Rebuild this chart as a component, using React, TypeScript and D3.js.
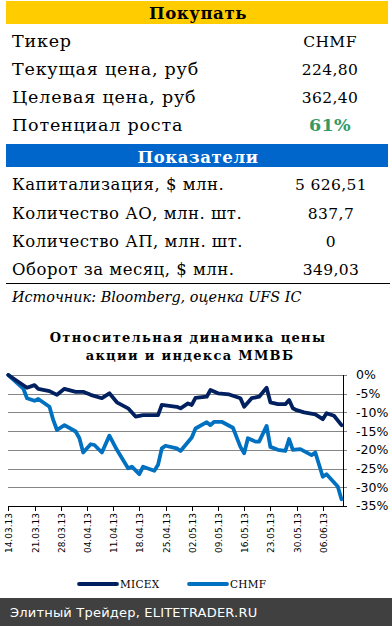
import React from "react";
import * as d3 from "d3";

const buyRows = ["Тикер", "Текущая цена, руб", "Целевая цена, руб", "Потенциал роста"];
const buyValues = ["CHMF", "224,80", "362,40", "61%"];
const statRows = ["Капитализация, $ млн.", "Количество АО, млн. шт.", "Количество АП, млн. шт.", "Оборот за месяц, $ млн."];
const statValues = ["5 626,51", "837,7", "0", "349,03"];

const xTickLabels = ["14.03.13", "21.03.13", "28.03.13", "04.04.13", "11.04.13", "18.04.13", "25.04.13", "02.05.13", "09.05.13", "16.05.13", "23.05.13", "30.05.13", "06.06.13"];
const yTicks = [0, -5, -10, -15, -20, -25, -30, -35];
const xDomain = ["14.03.13", "11.06.13"];

const micexDates = ["14.03.13","19.03.13","21.03.13","22.03.13","25.03.13","27.03.13","29.03.13","01.04.13","03.04.13","05.04.13","08.04.13","10.04.13","12.04.13","15.04.13","17.04.13","19.04.13","23.04.13","24.04.13","28.04.13","29.04.13","01.05.13","02.05.13","03.05.13","06.05.13","07.05.13","09.05.13","12.05.13","15.05.13","16.05.13","18.05.13","20.05.13","22.05.13","23.05.13","25.05.13","27.05.13","28.05.13","29.05.13","30.05.13","01.06.13","04.06.13","06.06.13","07.06.13","09.06.13","11.06.13"];
const micexValues = [0,-3.4,-2.7,-3.7,-4.3,-5.3,-3.7,-4.5,-4.5,-5.3,-6.2,-4.9,-7.3,-8.9,-11.1,-10.7,-10.7,-8.0,-8.5,-8.9,-7.6,-8.0,-6.1,-5.8,-4.0,-4.9,-5.2,-6.2,-8.5,-6.2,-5.8,-3.4,-7.3,-7.8,-7.8,-6.7,-8.9,-9.4,-10.0,-10.5,-11.8,-10.2,-10.9,-13.4];

const chmfDates = ["14.03.13","16.03.13","18.03.13","19.03.13","21.03.13","22.03.13","25.03.13","26.03.13","27.03.13","29.03.13","01.04.13","02.04.13","03.04.13","05.04.13","06.04.13","08.04.13","10.04.13","12.04.13","15.04.13","16.04.13","18.04.13","19.04.13","22.04.13","23.04.13","24.04.13","25.04.13","28.04.13","29.04.13","02.05.13","03.05.13","06.05.13","07.05.13","08.05.13","10.05.13","13.05.13","15.05.13","16.05.13","17.05.13","19.05.13","20.05.13","22.05.13","23.05.13","25.05.13","27.05.13","28.05.13","29.05.13","31.05.13","03.06.13","04.06.13","06.06.13","07.06.13","10.06.13","11.06.13"];
const chmfValues = [0,-1.8,-3.6,-6.2,-6.9,-6.4,-8.5,-12.0,-14.7,-13.4,-15.1,-16.9,-20.7,-18.5,-18.7,-20.7,-16.2,-20.0,-24.9,-24.5,-26.5,-24.5,-25.6,-24.0,-19.6,-18.9,-19.6,-20.3,-16.7,-14.3,-12.6,-13.4,-12.5,-12.5,-14.1,-19.2,-20.9,-16.9,-17.8,-17.8,-13.6,-19.2,-20.0,-20.3,-17.1,-20.0,-19.8,-21.4,-20.7,-27.2,-26.5,-29.8,-33.2];

const seriesNames = ["MICEX", "CHMF"];
const seriesColors = ["#002060", "#0070C0"];

const parse = d3.timeParse("%d.%m.%y");

export default function App() {
  const x = d3.scaleTime().domain(xDomain.map((s) => parse(s) as Date)).range([8.3, 341.5]);
  const y = d3.scaleLinear().domain([-35, 0]).range([506, 375]);
  const line = d3
    .line<[Date, number]>()
    .x((d) => x(d[0]))
    .y((d) => y(d[1]));
  const micex: [Date, number][] = micexDates.map((s, i) => [parse(s) as Date, micexValues[i]]);
  const chmf: [Date, number][] = chmfDates.map((s, i) => [parse(s) as Date, chmfValues[i]]);
  const serif = "'DejaVu Serif', serif";
  const sans = "'DejaVu Sans', sans-serif";
  const rowY1 = [47, 75, 103, 131];
  const rowY2 = [190, 218.5, 247, 275];
  const axisRight = 343;

  return (
    <svg width={392} height={626} style={{ position: "absolute", left: 0, top: 0, background: "#fff" }}>
      <rect x={0} y={0} width={392} height={626} fill="#fff" />
      {/* Buy header */}
      <rect x={6} y={1} width={382} height={23} fill="#FFCC00" />
      <text x={198} y={19} textAnchor="middle" fontFamily={serif} fontWeight="bold" fontSize={16.5} letterSpacing={0.6} fill="#000">Покупать</text>
      {buyRows.map((r, i) => (
        <text key={r} x={12} y={rowY1[i]} fontFamily={serif} fontSize={17.5} letterSpacing={0.8} fill="#000">{r}</text>
      ))}
      {buyValues.map((v, i) => (
        <text key={v} x={330} y={rowY1[i]} textAnchor="middle" fontFamily={serif}
          fontSize={i === 3 ? 17.5 : 15.5} fontWeight={i === 3 ? "bold" : "normal"}
          letterSpacing={0.4}
          fill={i === 3 ? "#339966" : "#000"}>{v}</text>
      ))}
      {/* Stats header */}
      <rect x={6} y={144} width={382} height={23} fill="#0066CC" />
      <text x={198} y={163} textAnchor="middle" fontFamily={serif} fontWeight="bold" fontSize={16.5} letterSpacing={0.6} fill="#fff">Показатели</text>
      {statRows.map((r, i) => (
        <text key={r} x={12} y={rowY2[i]} fontFamily={serif} fontSize={16.5} letterSpacing={0.5} fill="#000">{r}</text>
      ))}
      {statValues.map((v, i) => (
        <text key={v} x={331} y={rowY2[i]} textAnchor="middle" fontFamily={serif} fontSize={15.5} letterSpacing={0.4} fill="#000">{v}</text>
      ))}
      <line x1={6} x2={390} y1={283.5} y2={283.5} stroke="#000" strokeWidth={1} />
      <text x={12} y={302} fontFamily={serif} fontStyle="italic" fontSize={14.4} fill="#000">Источник: Bloomberg, оценка UFS IC</text>

      {/* Chart title */}
      <text x={188} y={342} textAnchor="middle" fontFamily={serif} fontWeight="bold" fontSize={13} letterSpacing={1.3} fill="#000">Относительная динамика цены</text>
      <text x={190} y={360} textAnchor="middle" fontFamily={serif} fontWeight="bold" fontSize={13} letterSpacing={1.3} fill="#000">акции и индекса ММВБ</text>

      {/* Gridlines */}
      {yTicks.slice(0, -1).map((t) => (
        <line key={t} x1={8} x2={axisRight + 4} y1={Math.round(y(t)) + 0.5} y2={Math.round(y(t)) + 0.5} stroke="#868686" strokeWidth={1} />
      ))}
      {/* Right axis */}
      <line x1={axisRight + 0.5} x2={axisRight + 0.5} y1={375} y2={507} stroke="#000" strokeWidth={1} />
      <line x1={axisRight} x2={axisRight + 4} y1={506.5} y2={506.5} stroke="#000" strokeWidth={1} />
      {yTicks.map((t) => (
        <text key={t} x={356} y={y(t)} dy="0.35em" fontFamily={sans} fontSize={12.5} fill="#000">{t + "%"}</text>
      ))}
      {/* X axis */}
      <line x1={8} x2={axisRight + 1} y1={506.5} y2={506.5} stroke="#000" strokeWidth={1} />
      {xTickLabels.map((s) => {
        const xx = Math.round(x(parse(s) as Date)) + 0.5;
        return (
          <g key={s}>
            <line x1={xx} x2={xx} y1={506} y2={511} stroke="#000" strokeWidth={1} />
            <text transform={`translate(${xx + 3.5},513) rotate(-90)`} textAnchor="end" fontFamily={sans} fontSize={9} fill="#000">{s}</text>
          </g>
        );
      })}

      {/* Lines */}
      <path d={line(chmf) || ""} fill="none" stroke={seriesColors[1]} strokeWidth={3.8} strokeLinejoin="round" strokeLinecap="round" />
      <path d={line(micex) || ""} fill="none" stroke={seriesColors[0]} strokeWidth={3.8} strokeLinejoin="round" strokeLinecap="round" />

      {/* Legend */}
      {seriesNames.map((n, i) => (
        <g key={n}>
          <line x1={79 + i * 110} x2={117 + i * 110} y1={584} y2={584} stroke={seriesColors[i]} strokeWidth={3.8} strokeLinecap="round" />
          <text x={120 + i * 110} y={588} fontFamily={serif} fontSize={10.5} letterSpacing={0.3} fill="#000">{n}</text>
        </g>
      ))}

      {/* Footer */}
      <rect x={0} y={598} width={392} height={28} fill="#404040" />
      <text x={10} y={617} fontFamily={sans} fontSize={13} letterSpacing={0.2} fill="#fff">Элитный Трейдер, ELITETRADER.RU</text>
    </svg>
  );
}
